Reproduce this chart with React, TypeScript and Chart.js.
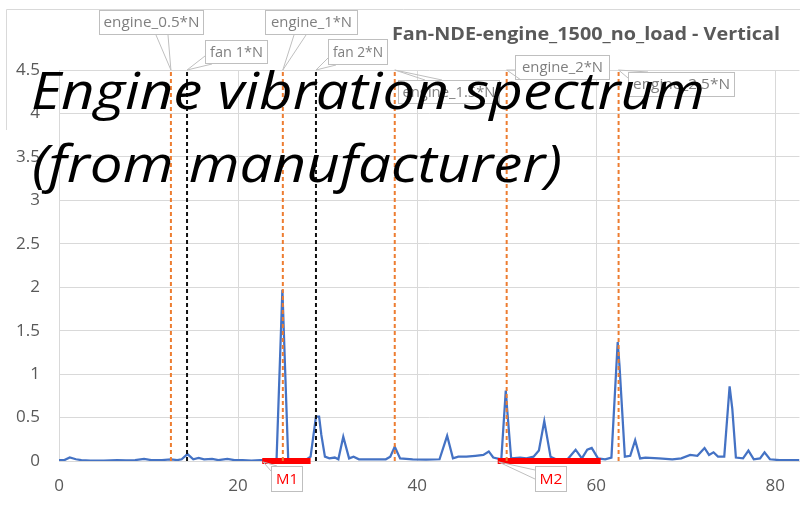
import { useEffect, useRef } from "react";
import { Chart, registerables } from "chart.js";

Chart.register(...registerables);

// ---- data ----
const freqHz = [
  0.0, 0.6, 1.2, 1.9, 2.5, 3.5, 5.0, 6.5, 7.5, 8.5, 9.5, 10.3, 11.5, 12.5, 13.2, 13.7, 14.35, 15.0, 15.6, 16.2,
  17.1, 17.8, 18.8, 19.6, 20.5, 21.5, 22.5, 23.5, 24.3, 24.95, 25.6, 26.2, 27.5, 28.1, 28.7, 29.05, 29.3, 29.7,
  30.2, 30.8, 31.2, 31.75, 32.4, 32.9, 33.5, 35.0, 36.5, 37.0, 37.5, 38.1, 39.5, 41.0, 42.5, 43.35, 44.0, 44.6,
  45.5, 46.5, 47.4, 48.0, 48.5, 49.4, 49.9, 50.05, 50.5, 51.5, 52.2, 53.0, 53.6, 54.2, 54.9, 55.5, 56.8, 57.7,
  58.4, 59.0, 59.5, 60.2, 61.0, 61.7, 62.4, 62.6, 63.2, 63.8, 64.35, 64.9, 65.5, 67.0, 68.5, 69.5, 70.5, 71.3,
  72.1, 72.6, 73.1, 73.6, 74.3, 74.9, 75.2, 75.6, 76.4, 77.0, 77.6, 78.3, 78.8, 79.4, 80.5, 82.7,
];
const amplitude = [
  0.01, 0.01, 0.04, 0.02, 0.01, 0.005, 0.005, 0.01, 0.008, 0.01, 0.025, 0.01, 0.01, 0.02, 0.01, 0.02, 0.08, 0.02, 0.035, 0.02,
  0.025, 0.01, 0.025, 0.01, 0.01, 0.005, 0.01, 0.01, 0.02, 1.97, 0.02, 0.01, 0.01, 0.05, 0.51, 0.51, 0.3, 0.05,
  0.03, 0.04, 0.02, 0.28, 0.03, 0.05, 0.02, 0.02, 0.02, 0.05, 0.165, 0.03, 0.02, 0.015, 0.02, 0.29, 0.03, 0.05,
  0.05, 0.06, 0.07, 0.11, 0.04, 0.02, 0.81, 0.6, 0.03, 0.04, 0.03, 0.05, 0.12, 0.46, 0.05, 0.02, 0.02, 0.13,
  0.03, 0.13, 0.15, 0.03, 0.02, 0.04, 1.37, 1.1, 0.05, 0.06, 0.24, 0.03, 0.04, 0.03, 0.02, 0.03, 0.07, 0.06,
  0.15, 0.07, 0.1, 0.05, 0.05, 0.86, 0.6, 0.04, 0.03, 0.12, 0.02, 0.03, 0.1, 0.02, 0.01, 0.01,
];
const engineOrderHz = [12.5, 25, 37.5, 50, 62.5];
const engineOrderLabels = ["engine_0.5*N", "engine_1*N", "engine_1.5*N", "engine_2*N", "engine_2.5*N"];
const fanOrderHz = [14.3, 28.7];
const fanOrderLabels = ["fan 1*N", "fan 2*N"];
const bandNames = ["M1", "M2"];
const bandStartHz = [22.7, 49.0];
const bandEndHz = [28.1, 60.5];
const X_MIN = 0;
const X_MAX = 82.7;
const X_STEP = 20;
const Y_MIN = 0;
const Y_MAX = 4.5;
const Y_STEP = 0.5;
const chartTitle = "Fan-NDE-engine_1500_no_load - Vertical";
const overlayLines = ["Engine vibration spectrum", "(from manufacturer)"];

// ---- styling / layout ----
const FONT = "'Open Sans', 'Noto Sans', sans-serif";
const GRID = "#d9d9d9";
const TICK = "#595959";
const BLUE = "#4472C4";
const ORANGE = "#ED7D31";

type Callout = { box: [number, number, number, number]; textW: number; base: [number, number, number, number] };
// box: left, top, right, bottom; base: wedge base points (x1,y1,x2,y2)
const callouts: Record<string, Callout> = {
  "engine_0.5*N": { box: [99, 10, 204, 35], textW: 96, base: [156, 35, 168, 35] },
  "fan 1*N": { box: [205, 40, 268, 64], textW: 53, base: [205, 56, 212, 64] },
  "engine_1*N": { box: [265, 10, 358, 35], textW: 81, base: [294, 35, 306, 35] },
  "fan 2*N": { box: [328, 39, 388, 65], textW: 50, base: [328, 58, 336, 65] },
  "engine_1.5*N": { box: [398, 80, 500, 104], textW: 93, base: [425, 80, 442, 80] },
  "engine_2*N": { box: [515, 55, 610, 80], textW: 81, base: [515, 70, 521, 80] },
  "engine_2.5*N": { box: [628, 72, 735, 97], textW: 97, base: [628, 78, 648, 72] },
  M1: { box: [271, 466, 303, 492], textW: 22, base: [271, 471, 277, 466] },
  M2: { box: [535, 466, 567, 492], textW: 23, base: [535, 470, 535, 479] },
};

function fitText(ctx: CanvasRenderingContext2D, text: string, x: number, y: number, width: number, font: string, color: string, align: "center" | "left", baseline: CanvasTextBaseline) {
  ctx.save();
  ctx.font = font;
  const w = ctx.measureText(text).width;
  ctx.translate(x, y);
  ctx.scale(width / w, 1);
  ctx.fillStyle = color;
  ctx.textAlign = align;
  ctx.textBaseline = baseline;
  ctx.fillText(text, 0, 0);
  ctx.restore();
}

function drawCallout(ctx: CanvasRenderingContext2D, label: string, tipX: number, tipY: number, color: string) {
  const c = callouts[label];
  const [l, t, r, b] = c.box;
  ctx.save();
  ctx.strokeStyle = "#bfbfbf";
  ctx.lineWidth = 1;
  ctx.fillStyle = "#ffffff";
  ctx.fillRect(l, t, r - l, b - t);
  ctx.strokeRect(l + 0.5, t + 0.5, r - l - 1, b - t - 1);
  ctx.beginPath();
  ctx.moveTo(c.base[0], c.base[1]);
  ctx.lineTo(tipX, tipY);
  ctx.lineTo(c.base[2], c.base[3]);
  ctx.stroke();
  ctx.restore();
  fitText(ctx, label, (l + r) / 2, (t + b) / 2 + 0.5, c.textW, `15px ${FONT}`, color, "center", "middle");
}

const annotationPlugin = {
  id: "annotations",
  afterDraw(chart: any) {
    const ctx: CanvasRenderingContext2D = chart.ctx;
    const xs = chart.scales.x;
    const ys = chart.scales.y;
    const topY = ys.getPixelForValue(Y_MAX);
    const zeroY = ys.getPixelForValue(0);
    // outer chart border
    ctx.save();
    ctx.strokeStyle = GRID;
    ctx.lineWidth = 1;
    ctx.beginPath();
    ctx.moveTo(6.5, 130);
    ctx.lineTo(6.5, 9.5);
    ctx.lineTo(800, 9.5);
    ctx.stroke();
    ctx.restore();
    // title
    fitText(ctx, chartTitle, 586, 35, 388, `bold 17px ${FONT}`, TICK, "center", "middle");
    // callouts for order lines
    engineOrderLabels.forEach((lab, i) => {
      drawCallout(ctx, lab, xs.getPixelForValue(engineOrderHz[i]), topY, "#7f7f7f");
    });
    fanOrderLabels.forEach((lab, i) => {
      drawCallout(ctx, lab, xs.getPixelForValue(fanOrderHz[i]), topY, "#7f7f7f");
    });
    bandNames.forEach((lab, i) => {
      drawCallout(ctx, lab, xs.getPixelForValue(bandStartHz[i]) + 1, zeroY + 1, "#ff0000");
    });
    // big overlay text
    fitText(ctx, overlayLines[0], 31, 109, 674, `italic 52px ${FONT}`, "#000000", "left", "alphabetic");
    fitText(ctx, overlayLines[1], 32, 182, 530, `italic 52px ${FONT}`, "#000000", "left", "alphabetic");
  },
};

export default function App() {
  const ref = useRef<HTMLCanvasElement | null>(null);
  useEffect(() => {
    if (!ref.current) return;
    const spectrum = freqHz.map((f, i) => ({ x: f, y: amplitude[i] }));
    const vline = (hz: number, color: string, dash: number[], label: string) => ({
      label,
      data: [
        { x: hz, y: Y_MIN },
        { x: hz, y: Y_MAX },
      ],
      borderColor: color,
      borderWidth: 2,
      borderDash: dash,
      pointRadius: 0,
      order: 1,
      clip: false,
    });
    const datasets: any[] = [
      {
        label: "spectrum",
        data: spectrum,
        borderColor: BLUE,
        borderWidth: 2.25,
        pointRadius: 0,
        tension: 0,
        order: 3,
      },
      ...bandNames.map((n, i) => ({
        label: n,
        data: [
          { x: bandStartHz[i], y: 0 },
          { x: bandEndHz[i], y: 0 },
        ],
        borderColor: "#ff0000",
        borderWidth: 6,
        pointRadius: 0,
        order: 2,
        clip: false,
      })),
      ...engineOrderHz.map((hz, i) => vline(hz, ORANGE, [4, 3], engineOrderLabels[i])),
      ...fanOrderHz.map((hz, i) => vline(hz, "#111111", [4, 3], fanOrderLabels[i])),
    ];
    const chart = new Chart(ref.current, {
      type: "line",
      data: { datasets },
      options: {
        responsive: false,
        animation: false,
        devicePixelRatio: 1,
        layout: { padding: { top: 70, left: 0, right: 0, bottom: 0 } },
        plugins: { legend: { display: false }, tooltip: { enabled: false }, title: { display: false } },
        scales: {
          x: {
            type: "linear",
            min: X_MIN,
            max: X_MAX,
            ticks: {
              stepSize: X_STEP,
              includeBounds: false,
              color: TICK,
              font: { family: FONT, size: 17 },
              padding: 15,
              maxRotation: 0,
              autoSkip: false,
              callback: (v: any) => `${+v}`,
            },
            grid: { color: GRID, drawTicks: false },
            border: { color: GRID },
            afterFit: (s: any) => {
              s.height = 45;
            },
          },
          y: {
            type: "linear",
            min: Y_MIN,
            max: Y_MAX,
            ticks: {
              stepSize: Y_STEP,
              color: TICK,
              font: { family: FONT, size: 17 },
              padding: 19,
              callback: (v: any) => `${+v}`,
            },
            grid: { color: GRID, drawTicks: false },
            border: { color: GRID },
            afterFit: (s: any) => {
              s.width = 59;
            },
          },
        },
      } as any,
      plugins: [annotationPlugin],
    });
    return () => chart.destroy();
  }, []);
  return (
    <div style={{ position: "absolute", left: 0, top: 0, width: 800, height: 506, background: "#fff" }}>
      <canvas ref={ref} width={800} height={506} />
    </div>
  );
}
